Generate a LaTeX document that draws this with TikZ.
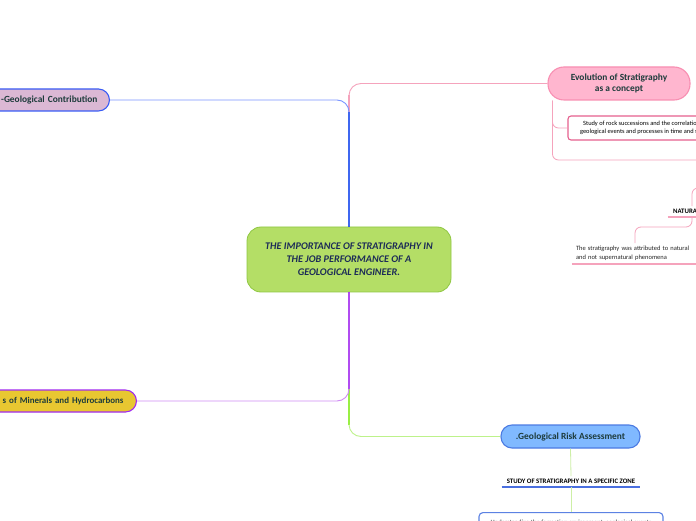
\documentclass[tikz,border=0pt]{standalone}
\usepackage{fontspec}
\setmainfont{Carlito}
\usetikzlibrary{positioning, calc}
\definecolor{corefill}{HTML}{B4DE66}
\definecolor{coreline}{HTML}{8FC742}
\definecolor{corenavy}{HTML}{1C2B57}
\definecolor{titletxt}{HTML}{1D3B3B}
\definecolor{gcfill}{HTML}{DBB8D4}
\definecolor{gcline}{HTML}{3A5CF5}
\definecolor{bluedark}{HTML}{1F4FE8}
\definecolor{bluepale}{HTML}{7A95FF}
\definecolor{pinkline}{HTML}{F5A3BC}
\definecolor{evofill}{HTML}{FFB6CF}
\definecolor{evoline}{HTML}{F88FB2}
\definecolor{studyline}{HTML}{E5608E}
\definecolor{purpdark}{HTML}{A12BF0}
\definecolor{purppale}{HTML}{D08BF5}
\definecolor{minfill}{HTML}{E8C731}
\definecolor{grndark}{HTML}{86EE1E}
\definecolor{grnpale}{HTML}{BDF28A}
\definecolor{leafgrn}{HTML}{CDEFA6}
\definecolor{riskfill}{HTML}{80B9FF}
\definecolor{riskline}{HTML}{4C7BE2}
\definecolor{zoneline}{HTML}{4A6FE0}
\definecolor{boxline}{HTML}{5C82E3}

\begin{document}
\begin{tikzpicture}[x=1pt, y=1pt,
  core/.style={draw=coreline, fill=corefill, line width=0.8pt, rounded corners=14pt,
               minimum width=204pt, minimum height=65pt, align=center, text=corenavy,
               font=\fontsize{10.2}{13}\selectfont\bfseries\itshape},
  topic/.style={draw=#1, line width=1.1pt, rounded corners=11pt, minimum height=22pt,
                inner xsep=12pt, text=titletxt, font=\fontsize{9.4}{10}\selectfont\bfseries},
  note/.style={inner xsep=5pt, inner ysep=3pt, text=black!85,
               font=\fontsize{6.5}{9}\selectfont},
  caps/.style={text=black, font=\fontsize{6.8}{8}\selectfont\bfseries},
  uline/.style={append after command={(\tikzlastnode.south west)
                edge[draw=#1, line width=1.3pt] (\tikzlastnode.south east)}},
  trunk/.style={draw=#1, line width=2.2pt},
  limb/.style={draw=#1, line width=0.9pt, rounded corners=12pt},
  twig/.style={draw=#1, line width=0.8pt, rounded corners=6pt}
]
\useasboundingbox (0,0) rectangle (696,520);
\fill[white] (0,0) rectangle (696,520);
\clip (0,0) rectangle (696,520);

% central topic
\node[core] (ctr) at (349,260.5) {THE IMPORTANCE OF STRATIGRAPHY IN\\THE JOB PERFORMANCE OF A\\GEOLOGICAL ENGINEER.};

% main branches
\node[topic=gcline, fill=gcfill, anchor=east, text width=110pt, align=right] (gc) at (110,420) {-Geological Contribution};
\node[topic=purpdark, fill=minfill, anchor=east, text width=140pt, align=right, inner xsep=13pt,
      font=\fontsize{8.9}{10}\selectfont\bfseries] (mins) at (137,119) {s of Minerals and Hydrocarbons};
\node[topic=evoline, fill=evofill, minimum width=142pt, minimum height=33pt, rounded corners=16pt,
      align=center, font=\fontsize{9.4}{11.5}\selectfont\bfseries] (evo) at (619,436.5) {Evolution of Stratigraphy\\as a concept};
\node[topic=riskline, fill=riskfill, minimum width=139pt, minimum height=23pt] (risk) at (570.5,83.5) {.Geological Risk Assessment};

% evolution sub-topics
\node[draw=studyline, fill=white, line width=1.1pt, rounded corners=3pt, minimum width=154pt,
      minimum height=24pt, align=center, font=\fontsize{6.4}{8}\selectfont] (study) at (645,392)
      {Study of rock successions and the correlation of\\geological events and processes in time and space};
\coordinate (drop) at ([xshift=5pt]evo.south west);
\coordinate (hubA) at (730,360);
\coordinate (hubB) at (730,332);
\node[note, caps, uline=pinkline, anchor=south] (nat) at (692,303) {NATURALISM};
\node[note, uline=pinkline, anchor=south, text width=118pt, align=left, inner xsep=4pt] (phen) at (635,256)
      {The stratigraphy was attributed to natural\\and not supernatural phenomena};

% risk sub-topics
\node[note, caps, uline=zoneline, anchor=south] (zone) at (571,33) {STUDY OF STRATIGRAPHY IN A SPECIFIC ZONE};
\node[note, draw=boxline, fill=white, line width=1.1pt, rounded corners=4pt, minimum width=184pt,
      minimum height=20pt, anchor=north] (fact) at (571,8) {Understanding the formation environment, geological events};

% connectors
\draw[trunk=pinkline] (ctr.north) -- ([yshift=-12pt]ctr.north |- evo.west);
\draw[limb=pinkline] (ctr.north) |- (evo.west);
\draw[trunk=bluedark] (ctr.north) -- ([yshift=-12pt]ctr.north |- gc.east);
\draw[limb=bluepale] (ctr.north) |- (gc.east);
\draw[trunk=grndark] (ctr.south) -- ([yshift=12pt]ctr.south |- risk.west);
\draw[limb=grnpale] (ctr.south) |- (risk.west);
\draw[trunk=purpdark] (ctr.south) -- ([yshift=12pt]ctr.south |- mins.east);
\draw[limb=purppale] (ctr.south) |- (mins.east);

\draw[twig=pinkline] (drop) |- (study.west);
\draw[twig=pinkline] (drop) |- (hubA);
\draw[twig=pinkline] (nat.north) |- (hubB);
\draw[twig=pinkline] (nat.south) -- ++(0,-10) -| (phen.north);

\draw[twig=leafgrn] (risk.south) -- (zone.north);
\draw[twig=leafgrn] (zone.south) -- (fact.north);
\end{tikzpicture}
\end{document}
